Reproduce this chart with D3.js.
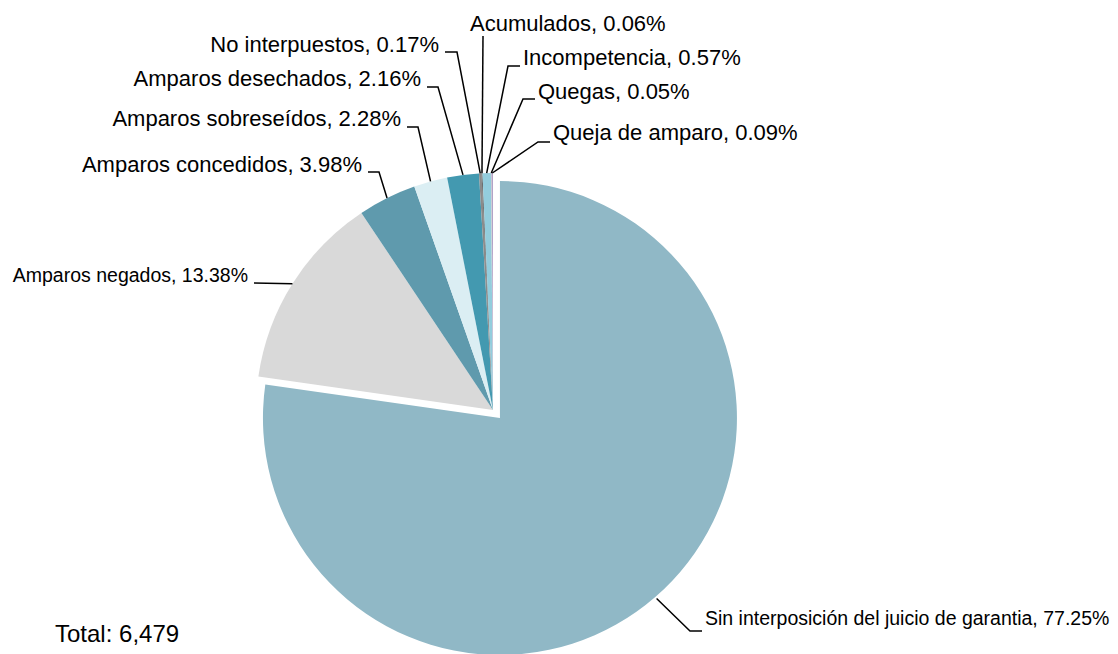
<!DOCTYPE html>
<html>
<head>
<meta charset="utf-8">
<script src="https://cdn.jsdelivr.net/npm/d3@7"></script>
<style>
  body { margin: 0; background: #fff; }
  text { font-family: "Liberation Sans", Arial, sans-serif; fill: #000; }
</style>
</head>
<body>
<div id="chart"></div>
<script>
// categories and counts (total 6,479)
var categories = ['Sin interposición del juicio de garantia',
  'Amparos negados',
  'Amparos concedidos',
  'Amparos sobreseídos',
  'Amparos desechados',
  'No interpuestos',
  'Acumulados',
  'Incompetencia',
  'Quegas',
  'Queja de amparo'];
var counts = [5005, 867, 258, 148, 140, 11, 4, 37, 3, 6];
var colors = ['#90b8c6', '#d9d9d9', '#5f9aad', '#dbeef3', '#4399b0',
  '#8a8a8a', '#5a5a5a', '#93cddd', '#c6c6c6', '#b3a2c7'];

// label layout: stub end next to text (sx,sy), elbow (ex,ey), side, font size, baseline
var labelLayout = [
  {sx: 702, sy: 631, ex: 690, ey: 631, side: 'right', size: 19.5, ty: 625},
  {sx: 254, sy: 283, ex: 254, ey: 283, side: 'left', size: 19.5, ty: 282},
  {sx: 368, sy: 172, ex: 379, ey: 172, side: 'left', size: 22, ty: 172},
  {sx: 407, sy: 127, ex: 418, ey: 127, side: 'left', size: 22, ty: 126},
  {sx: 427, sy: 87, ex: 438, ey: 87, side: 'left', size: 22, ty: 86},
  {sx: 445, sy: 52, ex: 457, ey: 52, side: 'left', size: 22, ty: 52},
  {sx: 483, sy: 36, ex: 483, ey: 36, side: 'top', size: 22, ty: 31, tx: 470},
  {sx: 520, sy: 66, ex: 508, ey: 66, side: 'right', size: 22, ty: 65},
  {sx: 535, sy: 99, ex: 523, ey: 99, side: 'right', size: 22, ty: 99},
  {sx: 550, sy: 142, ex: 538, ey: 142, side: 'right', size: 22, ty: 140}
];

var width = 1118, height = 654;
var cx = 493, cy = 410, radius = 237, explode = 10.6;

var total = d3.sum(counts);
var pct = d3.format('.2%');

var svg = d3.select('#chart').append('svg')
  .attr('width', width)
  .attr('height', height);

var pie = d3.pie().sort(null).value(function(d) { return d; });
var arcs = pie(counts);

var arc = d3.arc().innerRadius(0).outerRadius(radius);

// only the first slice is pulled out
function offset(d, i) {
  if (i !== 0) return [0, 0];
  var a = (d.startAngle + d.endAngle) / 2;
  return [Math.sin(a) * explode, -Math.cos(a) * explode];
}

var g = svg.append('g')
  .attr('transform', 'translate(' + cx + ',' + cy + ')');

g.selectAll('path.slice').data(arcs)
  .enter()
  .append('path')
    .attr('class', 'slice')
    .attr('d', arc)
    .attr('transform', function(d, i) {
      var o = offset(d, i);
      return 'translate(' + o[0] + ',' + o[1] + ')';
    })
    .style('fill', function(d, i) { return colors[i]; });

// leader lines
svg.selectAll('polyline.leader').data(arcs)
  .enter()
  .append('polyline')
    .attr('class', 'leader')
    .attr('points', function(d, i) {
      var a = (d.startAngle + d.endAngle) / 2;
      var o = offset(d, i);
      var r = i === 0 ? radius + 2 : radius;
      var px = cx + o[0] + Math.sin(a) * r;
      var py = cy + o[1] - Math.cos(a) * r;
      var L = labelLayout[i];
      return [[L.sx, L.sy], [L.ex, L.ey], [px, py]].join(' ');
    })
    .style('fill', 'none')
    .style('stroke', '#000')
    .style('stroke-width', 1.5);

// labels
svg.selectAll('text.label').data(arcs)
  .enter()
  .append('text')
    .attr('class', 'label')
    .attr('x', function(d, i) {
      var L = labelLayout[i];
      if (L.side === 'left') return L.sx - 6;
      if (L.side === 'top') return L.tx;
      return L.sx + 3;
    })
    .attr('y', function(d, i) { return labelLayout[i].ty; })
    .attr('text-anchor', function(d, i) {
      return labelLayout[i].side === 'left' ? 'end' : 'start';
    })
    .style('font-size', function(d, i) { return labelLayout[i].size + 'px'; })
    .text(function(d, i) { return categories[i] + ', ' + pct(d.data / total); });

svg.append('text')
  .attr('x', 55)
  .attr('y', 642)
  .style('font-size', '24px')
  .text('Total: ' + d3.format(',')(total));
</script>
</body>
</html>
